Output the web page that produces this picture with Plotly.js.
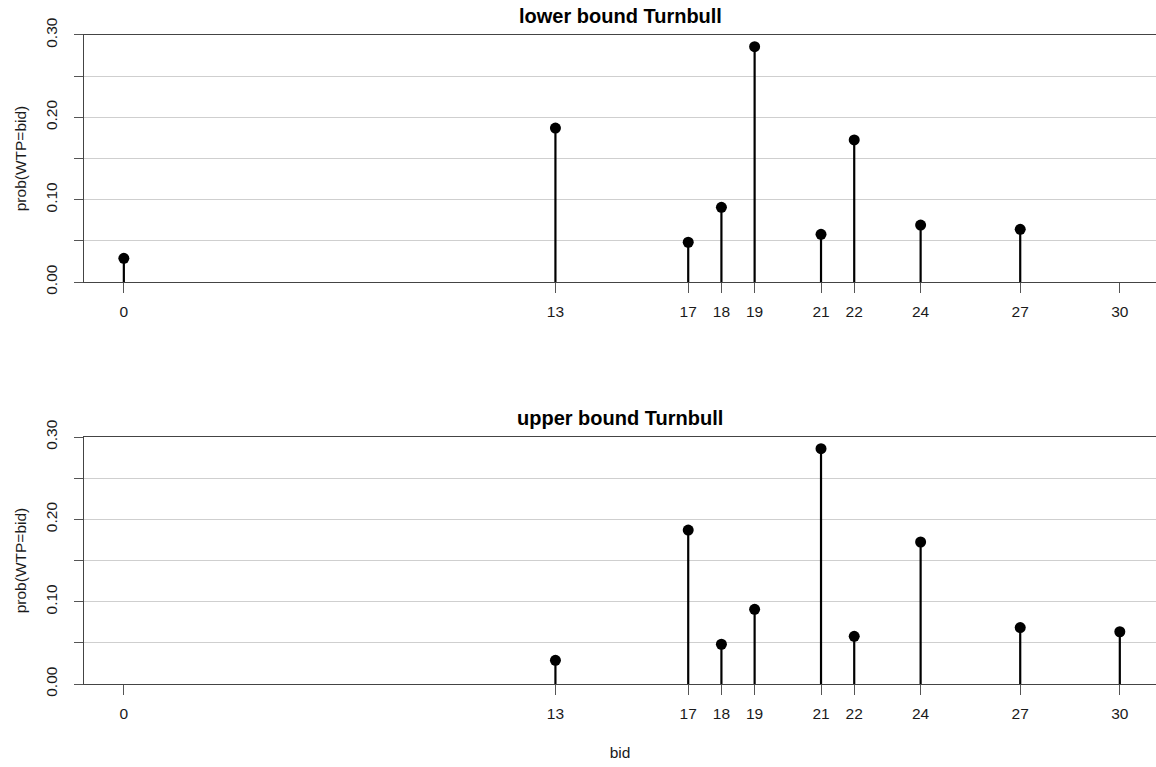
<!DOCTYPE html>
<html>
<head>
<meta charset="utf-8">
<script src="https://cdn.plot.ly/plotly-3.0.1.min.js"></script>
<style>html,body{margin:0;padding:0;background:#fff;}#chart{width:1156px;height:767px;}</style>
</head>
<body>
<div id="chart"></div>
<script>
const bids = [0, 13, 17, 18, 19, 21, 22, 24, 27, 30];
const lowerBids = [0, 13, 17, 18, 19, 21, 22, 24, 27];
const lowerProb = [0.0288, 0.187, 0.0483, 0.0907, 0.2858, 0.0579, 0.1725, 0.0692, 0.064];
const upperBids = [13, 17, 18, 19, 21, 22, 24, 27, 30];
const upperProb = [0.0288, 0.187, 0.0483, 0.0907, 0.2858, 0.0579, 0.1725, 0.0685, 0.0635];
const yTicks = [0, 0.05, 0.10, 0.15, 0.20, 0.25, 0.30];
const yTickText = ['0.00', '', '0.10', '', '0.20', '', '0.30'];
const titles = ['lower bound Turnbull', 'upper bound Turnbull'];

const FONT = 'Liberation Sans, Arial, sans-serif';

function stemTrace(x, y, xa, ya) {
  return {
    type: 'scatter', mode: 'markers', x: x, y: y, xaxis: xa, yaxis: ya,
    marker: {color: '#000', size: 11},
    error_y: {type: 'data', symmetric: false, array: y.map(() => 0), arrayminus: y, color: '#000', thickness: 2.2, width: 0},
    hoverinfo: 'x+y', showlegend: false, cliponaxis: false
  };
}

const xBase = {
  type: 'linear', range: [-1.2, 31.09], tickvals: bids, ticktext: bids.map(String),
  showgrid: false, zeroline: false, showline: true, mirror: true, linecolor: '#444', linewidth: 1.2,
  ticks: 'outside', ticklen: 10, tickcolor: '#555', tickwidth: 1,
  tickfont: {family: FONT, size: 15.5, color: '#1a1a1a'}, ticklabelstandoff: 5
};
const yBase = {
  range: [0, 0.30], tickvals: yTicks, ticktext: yTickText, tickangle: -90,
  showgrid: true, gridcolor: '#cfcfcf', gridwidth: 1, zeroline: false,
  showline: true, linecolor: '#444', linewidth: 1.2,
  ticks: 'outside', ticklen: 9, tickcolor: '#555', tickwidth: 1,
  tickfont: {family: FONT, size: 15.5, color: '#1a1a1a'}, ticklabelstandoff: 11
};
const yTitle = {text: 'prob(WTP=bid)', font: {family: FONT, size: 15.5, color: '#1a1a1a'}, standoff: 12};

const layout = {
  width: 1156, height: 767,
  margin: {l: 84, r: 0, t: 0, b: 0},
  paper_bgcolor: '#fff', plot_bgcolor: '#fff',
  font: {family: FONT},
  xaxis: Object.assign({}, xBase, {anchor: 'y', domain: [0, 1]}),
  yaxis: Object.assign({}, yBase, {anchor: 'x', domain: [0.6323, 0.9544], title: yTitle}),
  xaxis2: Object.assign({}, xBase, {anchor: 'y2', domain: [0, 1],
    title: {text: 'bid', font: {family: FONT, size: 15.5, color: '#1a1a1a'}, standoff: 26}}),
  yaxis2: Object.assign({}, yBase, {anchor: 'x2', domain: [0.1082, 0.4302], title: yTitle}),
  annotations: [
    {text: '<b>' + titles[0] + '</b>', xref: 'paper', yref: 'paper', x: 0.5, y: 0.9544, yshift: 6, xanchor: 'center', yanchor: 'bottom', showarrow: false, font: {family: FONT, size: 20, color: '#000'}},
    {text: '<b>' + titles[1] + '</b>', xref: 'paper', yref: 'paper', x: 0.5, y: 0.4302, yshift: 6, xanchor: 'center', yanchor: 'bottom', showarrow: false, font: {family: FONT, size: 20, color: '#000'}}
  ]
};

Plotly.newPlot('chart', [
  stemTrace(lowerBids, lowerProb, 'x', 'y'),
  stemTrace(upperBids, upperProb, 'x2', 'y2')
], layout, {displayModeBar: false, staticPlot: true});
</script>
</body>
</html>
